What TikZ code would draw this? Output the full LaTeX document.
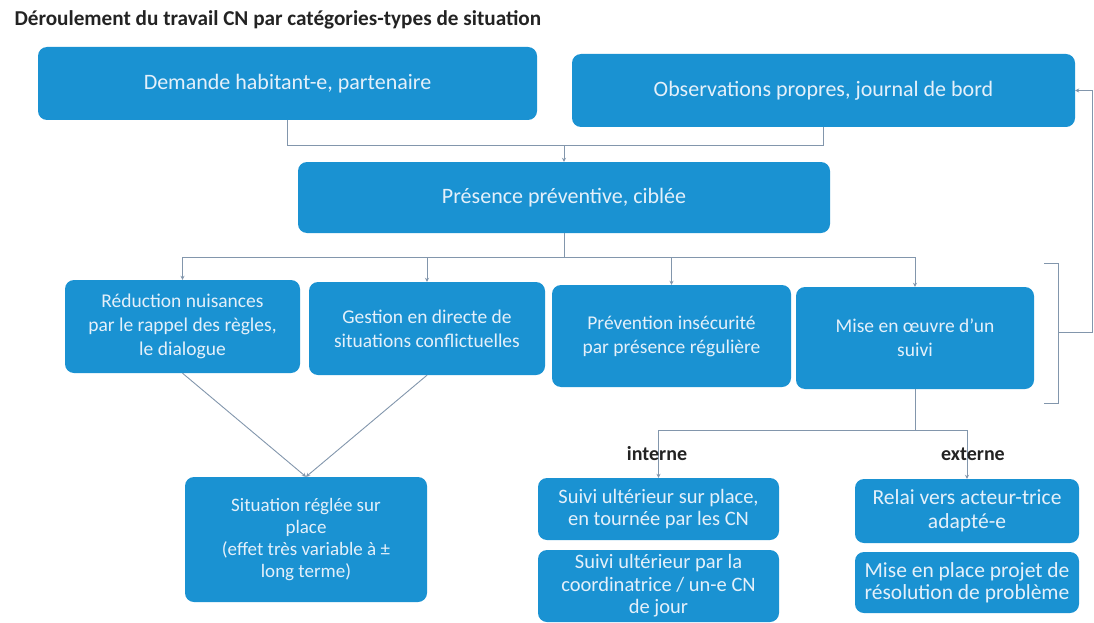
\documentclass[tikz,border=0pt]{standalone}
\usepackage{fontspec}
\setmainfont{Carlito}
\usetikzlibrary{calc}
\usetikzlibrary{arrows.meta}
\definecolor{boxblue}{RGB}{26,146,210}
\definecolor{boxtext}{RGB}{228,240,250}
\definecolor{linkgray}{RGB}{130,150,172}
\definecolor{titleink}{RGB}{35,35,35}

\begin{document}
\begin{tikzpicture}[x=1pt,y=-1pt]
            \tikzstyle{box} = [fill=boxblue, draw=none, rounded corners=9pt, text=boxtext, align=center, inner sep=0pt]
            \tikzstyle{big text} = [font=\fontsize{22}{26}\selectfont]
            \tikzstyle{mid text} = [font=\fontsize{19.5}{24}\selectfont]
            \tikzstyle{low text} = [font=\fontsize{20.5}{22.5}\selectfont]
            \tikzstyle{link} = [draw=linkgray, line width=0.9pt]
            \tikzstyle{arrow} = [link, -{Stealth[length=4pt,width=4pt]}]
            \tikzstyle{branch label} = [text=titleink, font=\bfseries\fontsize{20}{22}\selectfont]

            \useasboundingbox (0,0) rectangle (1094,623);

            \node[text=titleink, font=\bfseries\fontsize{21.2}{24}\selectfont, anchor=west] (title) at (11,20) {Déroulement du travail CN par catégories-types de situation};

            \node[box, big text, minimum width=499pt, minimum height=73pt] (dem) at (287.5,83.5) {Demande habitant-e, partenaire};
            \node[box, big text, minimum width=503pt, minimum height=73pt] (obs) at (823.5,90.5) {Observations propres, journal de bord};
            \node[box, big text, minimum width=532pt, minimum height=71pt] (pres) at (564,197.5) {Présence préventive, ciblée};

            \node[box, mid text, minimum width=235pt, minimum height=93pt] (red) at (182.5,326.5) {Réduction nuisances\\par le rappel des règles,\\le dialogue};
            \node[box, mid text, minimum width=236pt, minimum height=93pt] (ges) at (427,328.5) {Gestion en directe de\\situations conflictuelles};
            \node[box, mid text, minimum width=239pt, minimum height=102pt] (prev) at (671.5,336) {Prévention insécurité\\par présence régulière};
            \node[box, mid text, minimum width=238pt, minimum height=102pt] (mise) at (915,338) {Mise en œuvre d'un\\suivi};

            \node[box, font=\fontsize{19}{22}\selectfont, minimum width=242pt, minimum height=125pt] (sit) at (306,539.5) {Situation réglée sur\\place\\(effet très variable à ±\\long terme)};

            \node[box, low text, minimum width=241pt, minimum height=62pt] (sa) at (658.5,509) {Suivi ultérieur sur place,\\en tournée par les CN};
            \node[box, low text, minimum width=241pt, minimum height=72pt] (sb) at (658.5,586) {Suivi ultérieur par la\\coordinatrice / un-e CN\\de jour};
            \node[box, font=\fontsize{21.5}{24}\selectfont, minimum width=224pt, minimum height=64pt] (rel) at (967,511) {Relai vers acteur-trice\\adapté-e};
            \node[box, font=\fontsize{21.5}{22}\selectfont, minimum width=224pt, minimum height=61pt] (proj) at (967,582.5) {Mise en place projet de\\résolution de problème};

            \coordinate (jtop) at (564,145);
            \coordinate (jmid) at (564,257);
            \coordinate (jlow) at (915,430);

            \draw[link] (dem.south) |- (jtop);
            \draw[link] (obs.south) |- (jtop);
            \draw[arrow] (jtop) -- (pres.north);

            \draw[link] (pres.south) -- (jmid);
            \draw[arrow] (jmid) -| (red.north);
            \draw[arrow] (jmid) -| (ges.north);
            \draw[arrow] (jmid) -| (prev.north);
            \draw[arrow] (jmid) -| (mise.north);

            \draw[arrow] (red.south) -- (sit.north);
            \draw[arrow] (ges.south) -- (sit.north);

            \draw[link] (mise.south) -- (jlow);
            \draw[arrow] (jlow) -| (sa.north);
            \draw[arrow] (jlow) -| (rel.north);

            \node[branch label] (int) at (657,454) {interne};
            \node[branch label] (ext) at (973,454) {externe};

            % bracket and feedback loop
            \coordinate (brt) at (1044,263);
            \coordinate (brb) at (1044,403);
            \coordinate (brmid) at (1058,332);
            \coordinate (fbk) at (1092,332);
            \draw[link] (brt) -- (1058,263) -- (1058,403) -- (brb);
            \draw[arrow] (brmid) -- (fbk) |- (obs.east);

        \end{tikzpicture}
\end{document}
